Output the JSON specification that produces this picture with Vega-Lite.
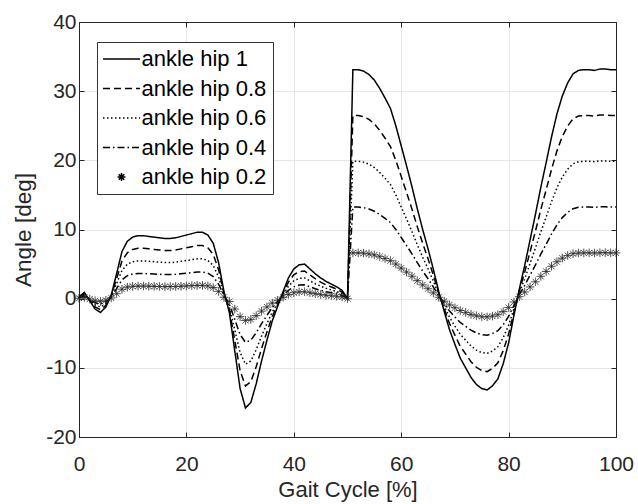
{
"$schema":"https://vega.github.io/schema/vega-lite/v6.json",
"width":537,"height":415,
"autosize":{"type":"none"},
"padding":{"left":79,"top":22,"right":22,"bottom":67},
"background":"white",
"datasets":{
"h1":[{"x":0,"y":0.3},{"x":1,"y":0.9},{"x":2,"y":-0.3},{"x":3,"y":-1.5},{"x":4,"y":-2.0},{"x":5,"y":-1.2},{"x":6,"y":0.5},{"x":7,"y":3.6},{"x":8,"y":6.8},{"x":9,"y":8.3},{"x":10,"y":8.9},{"x":11,"y":9.1},{"x":12,"y":9.1},{"x":13,"y":9.0},{"x":14,"y":8.9},{"x":15,"y":8.8},{"x":16,"y":8.7},{"x":17,"y":8.7},{"x":18,"y":8.8},{"x":19,"y":9.0},{"x":20,"y":9.2},{"x":21,"y":9.4},{"x":22,"y":9.6},{"x":23,"y":9.6},{"x":24,"y":9.2},{"x":25,"y":8.0},{"x":26,"y":5.2},{"x":27,"y":1.0},{"x":28,"y":-2.0},{"x":29,"y":-7.5},{"x":30,"y":-13.0},{"x":31,"y":-15.8},{"x":32,"y":-15.0},{"x":33,"y":-12.3},{"x":34,"y":-9.0},{"x":35,"y":-6.0},{"x":36,"y":-3.2},{"x":37,"y":-1.1},{"x":38,"y":1.0},{"x":39,"y":3.0},{"x":40,"y":4.3},{"x":41,"y":4.9},{"x":42,"y":5.0},{"x":43,"y":4.3},{"x":44,"y":3.6},{"x":45,"y":3.0},{"x":46,"y":2.5},{"x":47,"y":2.1},{"x":48,"y":1.7},{"x":49,"y":1.2},{"x":50,"y":0.0},{"x":51,"y":33.1},{"x":52,"y":33.1},{"x":53,"y":32.9},{"x":54,"y":32.4},{"x":55,"y":31.6},{"x":56,"y":30.4},{"x":57,"y":29.0},{"x":58,"y":27.5},{"x":59,"y":25.0},{"x":60,"y":22.1},{"x":61,"y":19.2},{"x":62,"y":16.2},{"x":63,"y":13.0},{"x":64,"y":10.0},{"x":65,"y":7.2},{"x":66,"y":4.2},{"x":67,"y":1.0},{"x":68,"y":-1.8},{"x":69,"y":-4.5},{"x":70,"y":-6.6},{"x":71,"y":-8.6},{"x":72,"y":-10.0},{"x":73,"y":-11.4},{"x":74,"y":-12.4},{"x":75,"y":-13.0},{"x":76,"y":-13.2},{"x":77,"y":-12.6},{"x":78,"y":-11.6},{"x":79,"y":-9.4},{"x":80,"y":-6.4},{"x":81,"y":-2.4},{"x":82,"y":1.4},{"x":83,"y":4.8},{"x":84,"y":8.5},{"x":85,"y":12.2},{"x":86,"y":16.1},{"x":87,"y":19.7},{"x":88,"y":23.4},{"x":89,"y":26.7},{"x":90,"y":29.3},{"x":91,"y":31.2},{"x":92,"y":32.5},{"x":93,"y":33.0},{"x":94,"y":33.1},{"x":95,"y":33.1},{"x":96,"y":33.0},{"x":97,"y":33.2},{"x":98,"y":33.2},{"x":99,"y":33.1},{"x":100,"y":33.1}],
"h08":[{"x":0,"y":0.24},{"x":1,"y":0.72},{"x":2,"y":-0.24},{"x":3,"y":-1.2},{"x":4,"y":-1.6},{"x":5,"y":-0.96},{"x":6,"y":0.4},{"x":7,"y":2.88},{"x":8,"y":5.44},{"x":9,"y":6.64},{"x":10,"y":7.12},{"x":11,"y":7.28},{"x":12,"y":7.28},{"x":13,"y":7.2},{"x":14,"y":7.12},{"x":15,"y":7.04},{"x":16,"y":6.96},{"x":17,"y":6.96},{"x":18,"y":7.04},{"x":19,"y":7.2},{"x":20,"y":7.36},{"x":21,"y":7.52},{"x":22,"y":7.68},{"x":23,"y":7.68},{"x":24,"y":7.36},{"x":25,"y":6.4},{"x":26,"y":4.16},{"x":27,"y":0.8},{"x":28,"y":-1.6},{"x":29,"y":-6},{"x":30,"y":-10.4},{"x":31,"y":-12.64},{"x":32,"y":-12},{"x":33,"y":-9.84},{"x":34,"y":-7.2},{"x":35,"y":-4.8},{"x":36,"y":-2.56},{"x":37,"y":-0.88},{"x":38,"y":0.8},{"x":39,"y":2.4},{"x":40,"y":3.44},{"x":41,"y":3.92},{"x":42,"y":4},{"x":43,"y":3.44},{"x":44,"y":2.88},{"x":45,"y":2.4},{"x":46,"y":2},{"x":47,"y":1.68},{"x":48,"y":1.36},{"x":49,"y":0.96},{"x":50,"y":0},{"x":51,"y":26.48},{"x":52,"y":26.48},{"x":53,"y":26.32},{"x":54,"y":25.92},{"x":55,"y":25.28},{"x":56,"y":24.32},{"x":57,"y":23.2},{"x":58,"y":22},{"x":59,"y":20},{"x":60,"y":17.68},{"x":61,"y":15.36},{"x":62,"y":12.96},{"x":63,"y":10.4},{"x":64,"y":8},{"x":65,"y":5.76},{"x":66,"y":3.36},{"x":67,"y":0.8},{"x":68,"y":-1.44},{"x":69,"y":-3.6},{"x":70,"y":-5.28},{"x":71,"y":-6.88},{"x":72,"y":-8},{"x":73,"y":-9.12},{"x":74,"y":-9.92},{"x":75,"y":-10.4},{"x":76,"y":-10.56},{"x":77,"y":-10.08},{"x":78,"y":-9.28},{"x":79,"y":-7.52},{"x":80,"y":-5.12},{"x":81,"y":-1.92},{"x":82,"y":1.12},{"x":83,"y":3.84},{"x":84,"y":6.8},{"x":85,"y":9.76},{"x":86,"y":12.88},{"x":87,"y":15.76},{"x":88,"y":18.72},{"x":89,"y":21.36},{"x":90,"y":23.44},{"x":91,"y":24.96},{"x":92,"y":26},{"x":93,"y":26.4},{"x":94,"y":26.48},{"x":95,"y":26.48},{"x":96,"y":26.4},{"x":97,"y":26.56},{"x":98,"y":26.56},{"x":99,"y":26.48},{"x":100,"y":26.48}],
"h06":[{"x":0,"y":0.18},{"x":1,"y":0.54},{"x":2,"y":-0.18},{"x":3,"y":-0.9},{"x":4,"y":-1.2},{"x":5,"y":-0.72},{"x":6,"y":0.3},{"x":7,"y":2.16},{"x":8,"y":4.08},{"x":9,"y":4.98},{"x":10,"y":5.34},{"x":11,"y":5.46},{"x":12,"y":5.46},{"x":13,"y":5.4},{"x":14,"y":5.34},{"x":15,"y":5.28},{"x":16,"y":5.22},{"x":17,"y":5.22},{"x":18,"y":5.28},{"x":19,"y":5.4},{"x":20,"y":5.52},{"x":21,"y":5.64},{"x":22,"y":5.76},{"x":23,"y":5.76},{"x":24,"y":5.52},{"x":25,"y":4.8},{"x":26,"y":3.12},{"x":27,"y":0.6},{"x":28,"y":-1.2},{"x":29,"y":-4.5},{"x":30,"y":-7.8},{"x":31,"y":-9.48},{"x":32,"y":-9},{"x":33,"y":-7.38},{"x":34,"y":-5.4},{"x":35,"y":-3.6},{"x":36,"y":-1.92},{"x":37,"y":-0.66},{"x":38,"y":0.6},{"x":39,"y":1.8},{"x":40,"y":2.58},{"x":41,"y":2.94},{"x":42,"y":3},{"x":43,"y":2.58},{"x":44,"y":2.16},{"x":45,"y":1.8},{"x":46,"y":1.5},{"x":47,"y":1.26},{"x":48,"y":1.02},{"x":49,"y":0.72},{"x":50,"y":0},{"x":51,"y":19.86},{"x":52,"y":19.86},{"x":53,"y":19.74},{"x":54,"y":19.44},{"x":55,"y":18.96},{"x":56,"y":18.24},{"x":57,"y":17.4},{"x":58,"y":16.5},{"x":59,"y":15},{"x":60,"y":13.26},{"x":61,"y":11.52},{"x":62,"y":9.72},{"x":63,"y":7.8},{"x":64,"y":6},{"x":65,"y":4.32},{"x":66,"y":2.52},{"x":67,"y":0.6},{"x":68,"y":-1.08},{"x":69,"y":-2.7},{"x":70,"y":-3.96},{"x":71,"y":-5.16},{"x":72,"y":-6},{"x":73,"y":-6.84},{"x":74,"y":-7.44},{"x":75,"y":-7.8},{"x":76,"y":-7.92},{"x":77,"y":-7.56},{"x":78,"y":-6.96},{"x":79,"y":-5.64},{"x":80,"y":-3.84},{"x":81,"y":-1.44},{"x":82,"y":0.84},{"x":83,"y":2.88},{"x":84,"y":5.1},{"x":85,"y":7.32},{"x":86,"y":9.66},{"x":87,"y":11.82},{"x":88,"y":14.04},{"x":89,"y":16.02},{"x":90,"y":17.58},{"x":91,"y":18.72},{"x":92,"y":19.5},{"x":93,"y":19.8},{"x":94,"y":19.86},{"x":95,"y":19.86},{"x":96,"y":19.8},{"x":97,"y":19.92},{"x":98,"y":19.92},{"x":99,"y":19.86},{"x":100,"y":19.86}],
"h04":[{"x":0,"y":0.12},{"x":1,"y":0.36},{"x":2,"y":-0.12},{"x":3,"y":-0.6},{"x":4,"y":-0.8},{"x":5,"y":-0.48},{"x":6,"y":0.2},{"x":7,"y":1.44},{"x":8,"y":2.72},{"x":9,"y":3.32},{"x":10,"y":3.56},{"x":11,"y":3.64},{"x":12,"y":3.64},{"x":13,"y":3.6},{"x":14,"y":3.56},{"x":15,"y":3.52},{"x":16,"y":3.48},{"x":17,"y":3.48},{"x":18,"y":3.52},{"x":19,"y":3.6},{"x":20,"y":3.68},{"x":21,"y":3.76},{"x":22,"y":3.84},{"x":23,"y":3.84},{"x":24,"y":3.68},{"x":25,"y":3.2},{"x":26,"y":2.08},{"x":27,"y":0.4},{"x":28,"y":-0.8},{"x":29,"y":-3},{"x":30,"y":-5.2},{"x":31,"y":-6.32},{"x":32,"y":-6},{"x":33,"y":-4.92},{"x":34,"y":-3.6},{"x":35,"y":-2.4},{"x":36,"y":-1.28},{"x":37,"y":-0.44},{"x":38,"y":0.4},{"x":39,"y":1.2},{"x":40,"y":1.72},{"x":41,"y":1.96},{"x":42,"y":2},{"x":43,"y":1.72},{"x":44,"y":1.44},{"x":45,"y":1.2},{"x":46,"y":1},{"x":47,"y":0.84},{"x":48,"y":0.68},{"x":49,"y":0.48},{"x":50,"y":0},{"x":51,"y":13.24},{"x":52,"y":13.24},{"x":53,"y":13.16},{"x":54,"y":12.96},{"x":55,"y":12.64},{"x":56,"y":12.16},{"x":57,"y":11.6},{"x":58,"y":11},{"x":59,"y":10},{"x":60,"y":8.84},{"x":61,"y":7.68},{"x":62,"y":6.48},{"x":63,"y":5.2},{"x":64,"y":4},{"x":65,"y":2.88},{"x":66,"y":1.68},{"x":67,"y":0.4},{"x":68,"y":-0.72},{"x":69,"y":-1.8},{"x":70,"y":-2.64},{"x":71,"y":-3.44},{"x":72,"y":-4},{"x":73,"y":-4.56},{"x":74,"y":-4.96},{"x":75,"y":-5.2},{"x":76,"y":-5.28},{"x":77,"y":-5.04},{"x":78,"y":-4.64},{"x":79,"y":-3.76},{"x":80,"y":-2.56},{"x":81,"y":-0.96},{"x":82,"y":0.56},{"x":83,"y":1.92},{"x":84,"y":3.4},{"x":85,"y":4.88},{"x":86,"y":6.44},{"x":87,"y":7.88},{"x":88,"y":9.36},{"x":89,"y":10.68},{"x":90,"y":11.72},{"x":91,"y":12.48},{"x":92,"y":13},{"x":93,"y":13.2},{"x":94,"y":13.24},{"x":95,"y":13.24},{"x":96,"y":13.2},{"x":97,"y":13.28},{"x":98,"y":13.28},{"x":99,"y":13.24},{"x":100,"y":13.24}],
"h02":[{"x":0,"y":0.06},{"x":1,"y":0.18},{"x":2,"y":-0.06},{"x":3,"y":-0.3},{"x":4,"y":-0.4},{"x":5,"y":-0.24},{"x":6,"y":0.1},{"x":7,"y":0.72},{"x":8,"y":1.36},{"x":9,"y":1.66},{"x":10,"y":1.78},{"x":11,"y":1.82},{"x":12,"y":1.82},{"x":13,"y":1.8},{"x":14,"y":1.78},{"x":15,"y":1.76},{"x":16,"y":1.74},{"x":17,"y":1.74},{"x":18,"y":1.76},{"x":19,"y":1.8},{"x":20,"y":1.84},{"x":21,"y":1.88},{"x":22,"y":1.92},{"x":23,"y":1.92},{"x":24,"y":1.84},{"x":25,"y":1.6},{"x":26,"y":1.04},{"x":27,"y":0.2},{"x":28,"y":-0.4},{"x":29,"y":-1.5},{"x":30,"y":-2.6},{"x":31,"y":-3.16},{"x":32,"y":-3},{"x":33,"y":-2.46},{"x":34,"y":-1.8},{"x":35,"y":-1.2},{"x":36,"y":-0.64},{"x":37,"y":-0.22},{"x":38,"y":0.2},{"x":39,"y":0.6},{"x":40,"y":0.86},{"x":41,"y":0.98},{"x":42,"y":1},{"x":43,"y":0.86},{"x":44,"y":0.72},{"x":45,"y":0.6},{"x":46,"y":0.5},{"x":47,"y":0.42},{"x":48,"y":0.34},{"x":49,"y":0.24},{"x":50,"y":0},{"x":51,"y":6.62},{"x":52,"y":6.62},{"x":53,"y":6.58},{"x":54,"y":6.48},{"x":55,"y":6.32},{"x":56,"y":6.08},{"x":57,"y":5.8},{"x":58,"y":5.5},{"x":59,"y":5},{"x":60,"y":4.42},{"x":61,"y":3.84},{"x":62,"y":3.24},{"x":63,"y":2.6},{"x":64,"y":2},{"x":65,"y":1.44},{"x":66,"y":0.84},{"x":67,"y":0.2},{"x":68,"y":-0.36},{"x":69,"y":-0.9},{"x":70,"y":-1.32},{"x":71,"y":-1.72},{"x":72,"y":-2},{"x":73,"y":-2.28},{"x":74,"y":-2.48},{"x":75,"y":-2.6},{"x":76,"y":-2.64},{"x":77,"y":-2.52},{"x":78,"y":-2.32},{"x":79,"y":-1.88},{"x":80,"y":-1.28},{"x":81,"y":-0.48},{"x":82,"y":0.28},{"x":83,"y":0.96},{"x":84,"y":1.7},{"x":85,"y":2.44},{"x":86,"y":3.22},{"x":87,"y":3.94},{"x":88,"y":4.68},{"x":89,"y":5.34},{"x":90,"y":5.86},{"x":91,"y":6.24},{"x":92,"y":6.5},{"x":93,"y":6.6},{"x":94,"y":6.62},{"x":95,"y":6.62},{"x":96,"y":6.6},{"x":97,"y":6.64},{"x":98,"y":6.64},{"x":99,"y":6.62},{"x":100,"y":6.62}]
},
"resolve":{"axis":{"x":"independent","y":"independent"}},
"layer":[
{"data":{"name":"h1"},
 "mark":{"type":"line","color":"black","strokeWidth":1.5},
 "encoding":{
  "x":{"field":"x","type":"quantitative","scale":{"domain":[0,100],"nice":false,"zero":false},
   "axis":{"title":"Gait Cycle [%]","values":[0,20,40,60,80,100],"labelFlush":false,"labelOverlap":false,"grid":true,"gridColor":"#e6e6e6","tickSize":-5,"tickColor":"#262626","domainColor":"#262626","labelFont":"Liberation Sans","labelFontSize":21,"labelColor":"#262626","labelPadding":21,"titleFont":"Liberation Sans","titleFontSize":22,"titleFontWeight":"normal","titleColor":"#262626","titlePadding":5}},
  "y":{"field":"y","type":"quantitative","scale":{"domain":[-20,40],"nice":false,"zero":false},
   "axis":{"title":"Angle [deg]","values":[-20,-10,0,10,20,30,40],"labelFlush":false,"labelOverlap":false,"labelExpr":"'' + datum.value","grid":true,"gridColor":"#e6e6e6","tickSize":-5,"tickColor":"#262626","domainColor":"#262626","labelFont":"Liberation Sans","labelFontSize":21,"labelColor":"#262626","labelPadding":8,"titleFont":"Liberation Sans","titleFontSize":22.5,"titleFontWeight":"normal","titleColor":"#262626","titlePadding":10.5}},
  "strokeDash":{"datum":"ankle hip 1","type":"nominal",
   "scale":{"domain":["ankle hip 1","ankle hip 0.8","ankle hip 0.6","ankle hip 0.4","ankle hip 0.2"],"range":[[1,0],[7,4],[1.5,2.5],[7,3,1.5,3],[1,0]]},
   "legend":{"title":null,"orient":"none","legendX":18,"legendY":20,"fillColor":"white","strokeColor":"#333333","padding":6,
     "labelFont":"Liberation Sans","labelFontSize":22,"labelColor":"black","labelOffset":9,"labelLimit":300,
     "symbolType":"M-2,0L2,0","symbolSize":342.25,"symbolOffset":7.5,"symbolStrokeWidth":1.5,"symbolStrokeColor":"black","symbolFillColor":"transparent","rowPadding":7.5,
     "encode":{"symbols":{"update":{
       "shape":{"signal":"datum.value === 'ankle hip 0.2' ? 'M0,-0.43L0,0.43M-0.43,0L0.43,0M-0.3,-0.3L0.3,0.3M-0.3,0.3L0.3,-0.3' : 'M-2,0L2,0'"},
       "stroke":{"value":"black"}}}}}}
 }},
{"data":{"name":"h08"},
 "mark":{"type":"line","color":"black","strokeWidth":1.5},
 "encoding":{
  "x":{"field":"x","type":"quantitative","axis":{"orient":"top","labels":false,"title":null,"grid":false,"tickSize":-5,"tickColor":"#262626","domainColor":"#262626","values":[0,20,40,60,80,100]}},
  "y":{"field":"y","type":"quantitative","axis":{"orient":"right","labels":false,"title":null,"grid":false,"tickSize":-5,"tickColor":"#262626","domainColor":"#262626","values":[-20,-10,0,10,20,30,40]}},
  "strokeDash":{"datum":"ankle hip 0.8","type":"nominal"}
 }},
{"data":{"name":"h06"},
 "mark":{"type":"line","color":"black","strokeWidth":1.5},
 "encoding":{
  "x":{"field":"x","type":"quantitative","axis":null},
  "y":{"field":"y","type":"quantitative","axis":null},
  "strokeDash":{"datum":"ankle hip 0.6","type":"nominal"}
 }},
{"data":{"name":"h04"},
 "mark":{"type":"line","color":"black","strokeWidth":1.5},
 "encoding":{
  "x":{"field":"x","type":"quantitative","axis":null},
  "y":{"field":"y","type":"quantitative","axis":null},
  "strokeDash":{"datum":"ankle hip 0.4","type":"nominal"}
 }},
{"data":{"name":"h02"},
 "mark":{"type":"point","shape":"M0,-1L0,1M-1,0L1,0M-0.7,-0.7L0.7,0.7M-0.7,0.7L0.7,-0.7","filled":false,"color":"#222222","strokeWidth":0.9,"size":72,"opacity":1},
 "encoding":{
  "x":{"field":"x","type":"quantitative","axis":null},
  "y":{"field":"y","type":"quantitative","axis":null},
  "strokeDash":{"datum":"ankle hip 0.2","type":"nominal"}
 }}
],
"config":{"view":{"stroke":"#262626","strokeWidth":1}}
}
